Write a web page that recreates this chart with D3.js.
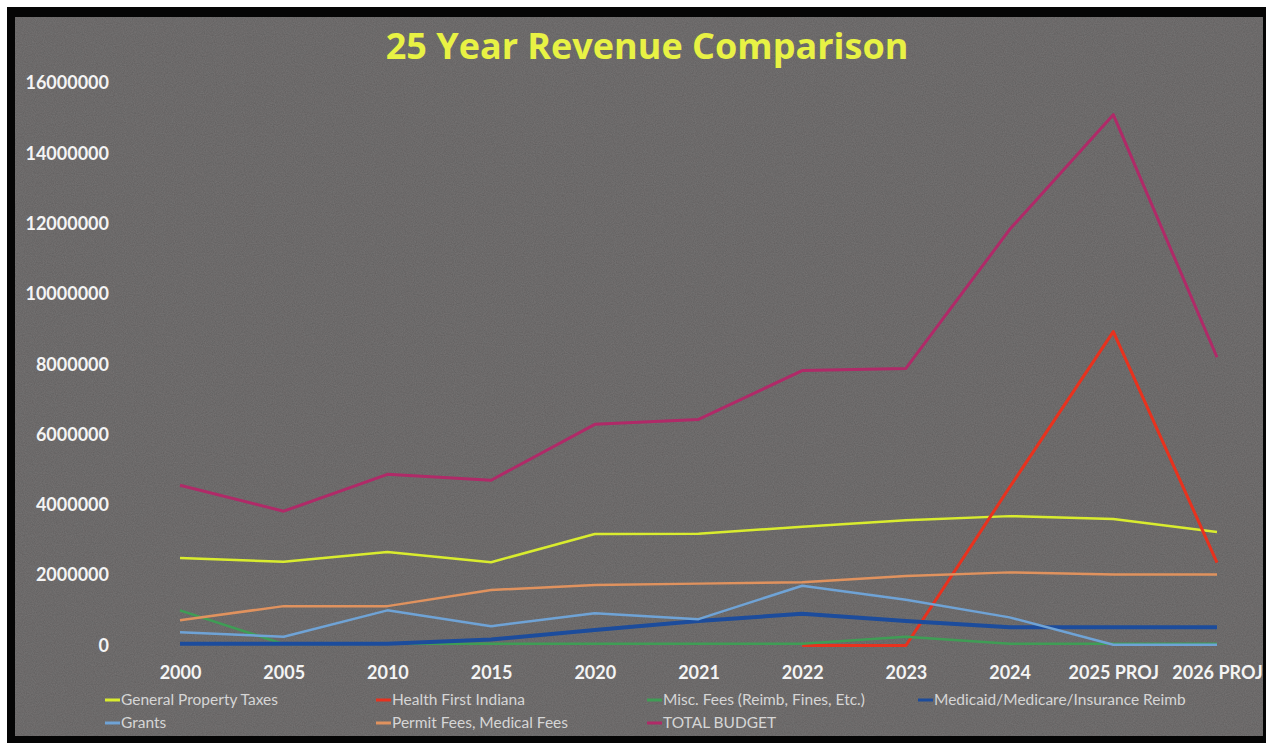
<!DOCTYPE html>
<html>
<head>
<meta charset="utf-8">
<script src="https://cdn.jsdelivr.net/npm/d3@7"></script>
<style>
  html, body { margin: 0; padding: 0; background: #fff; }
  svg { display: block; }
</style>
</head>
<body>
<div id="chart"></div>
<script>
// categories along the x axis
const years = ['2000', '2005', '2010', '2015', '2020', '2021', '2022', '2023', '2024', '2025 PROJ', '2026 PROJ'];

// series values (dollars)
const generalPropertyTaxes = [2490000, 2380000, 2660000, 2370000, 3170000, 3180000, 3380000, 3560000, 3680000, 3600000, 3230000];
const healthFirstIndiana   = [null, null, null, null, null, null, 0, 0, 4500000, 8930000, 2360000];
const miscFees             = [1000000, 40000, 50000, 50000, 50000, 50000, 50000, 250000, 50000, 50000, 50000];
const medicaidReimb        = [50000, 50000, 50000, 170000, 440000, 700000, 900000, 700000, 520000, 520000, 520000];
const grants               = [380000, 250000, 1000000, 550000, 920000, 750000, 1700000, 1300000, 800000, 20000, 20000];
const permitFees           = [720000, 1120000, 1120000, 1580000, 1720000, 1760000, 1800000, 1980000, 2080000, 2020000, 2020000];
const totalBudget          = [4560000, 3820000, 4870000, 4700000, 6290000, 6430000, 7820000, 7880000, 11830000, 15100000, 8200000];

// y tick labels
const yTicks = [0, 2000000, 4000000, 6000000, 8000000, 10000000, 12000000, 14000000, 16000000];

const series = [
  { name: 'General Property Taxes', values: generalPropertyTaxes, color: '#d9ec2e', width: 2.5 },
  { name: 'Health First Indiana', values: healthFirstIndiana, color: '#e8321e', width: 3 },
  { name: 'Misc. Fees (Reimb, Fines, Etc.)', values: miscFees, color: '#3f9d55', width: 2.5 },
  { name: 'Medicaid/Medicare/Insurance Reimb', values: medicaidReimb, color: '#1c4c9c', width: 4 },
  { name: 'Grants', values: grants, color: '#6fa3d6', width: 2.5 },
  { name: 'Permit Fees, Medical Fees', values: permitFees, color: '#e0925e', width: 2.5 },
  { name: 'TOTAL BUDGET', values: totalBudget, color: '#b02a68', width: 3 }
];

const W = 1268, H = 743;

const svg = d3.select('#chart').append('svg')
  .attr('width', W)
  .attr('height', H);

// grainy photo-like texture for the chart area
const defs = svg.append('defs');
const grain = defs.append('filter').attr('id', 'grain')
  .attr('x', 0).attr('y', 0).attr('width', '100%').attr('height', '100%');
grain.append('feTurbulence')
  .attr('type', 'fractalNoise')
  .attr('baseFrequency', 0.9)
  .attr('numOctaves', 2)
  .attr('seed', 3)
  .attr('result', 'noise');
grain.append('feColorMatrix')
  .attr('in', 'noise')
  .attr('type', 'matrix')
  .attr('values', '0 0 0 0 0  0 0 0 0 0  0 0 0 0 0  0 0 0 0.35 0')
  .attr('result', 'dark');
grain.append('feComposite')
  .attr('in', 'dark')
  .attr('in2', 'SourceGraphic')
  .attr('operator', 'in')
  .attr('result', 'darkIn');
grain.append('feMerge').call(m => {
  m.append('feMergeNode').attr('in', 'SourceGraphic');
  m.append('feMergeNode').attr('in', 'darkIn');
});

// frame
svg.append('rect').attr('x', 0).attr('y', 0).attr('width', W).attr('height', H).attr('fill', '#fff');
svg.append('rect').attr('x', 7).attr('y', 7).attr('width', W - 9).attr('height', H - 7).attr('fill', '#050505');
svg.append('rect').attr('x', 15).attr('y', 17).attr('width', W - 20).attr('height', H - 24)
  .attr('fill', '#777574')
  .attr('filter', 'url(#grain)');

const x = d3.scalePoint()
  .domain(years)
  .range([180, 1217]);

const y = d3.scaleLinear()
  .domain([0, 16000000])
  .range([645.5, 83]);

// title
svg.append('text')
  .attr('x', 647)
  .attr('y', 59)
  .attr('text-anchor', 'middle')
  .attr('font-family', 'Open Sans')
  .attr('font-weight', 'bold')
  .attr('font-size', 36)
  .attr('fill', '#e8f244')
  .text('25 Year Revenue Comparison');

// y axis
const yAxis = svg.append('g')
  .attr('transform', 'translate(112,0)')
  .call(d3.axisLeft(y).tickValues(yTicks).tickFormat(d3.format('d')).tickSize(0).tickPadding(3));
yAxis.select('.domain').remove();
yAxis.selectAll('text')
  .attr('font-family', 'Lato')
  .attr('font-weight', 'bold')
  .attr('font-size', 18)
  .attr('fill', '#f4f4f4');

// x axis
const xAxis = svg.append('g')
  .attr('transform', 'translate(0,660)')
  .call(d3.axisBottom(x).tickSize(0).tickPadding(0));
xAxis.select('.domain').remove();
xAxis.selectAll('text')
  .attr('dy', '0.71em')
  .attr('y', 6)
  .attr('font-family', 'Lato')
  .attr('font-weight', 'bold')
  .attr('font-size', 18)
  .attr('fill', '#f4f4f4');

// lines
const line = d3.line()
  .defined(d => d != null)
  .x((d, i) => x(years[i]))
  .y(d => y(d));

svg.append('g')
  .selectAll('path')
  .data(series)
  .join('path')
  .attr('fill', 'none')
  .attr('stroke', d => d.color)
  .attr('stroke-width', d => d.width)
  .attr('stroke-linejoin', 'round')
  .attr('d', d => line(d.values));

// legend, two rows of four columns
const legendCols = [105, 376, 647, 918];
const legend = svg.append('g')
  .selectAll('g')
  .data(series)
  .join('g')
  .attr('transform', (d, i) => `translate(${legendCols[i % 4]},${i < 4 ? 700 : 723})`);

legend.append('line')
  .attr('x1', 0).attr('x2', 15)
  .attr('y1', 0).attr('y2', 0)
  .attr('stroke', d => d.color)
  .attr('stroke-width', 3);

legend.append('text')
  .attr('x', 16)
  .attr('y', 0)
  .attr('dy', '0.35em')
  .attr('font-family', 'Lato')
  .attr('font-size', 15.5)
  .attr('fill', '#d6d6d6')
  .text(d => d.name);
</script>
</body>
</html>
